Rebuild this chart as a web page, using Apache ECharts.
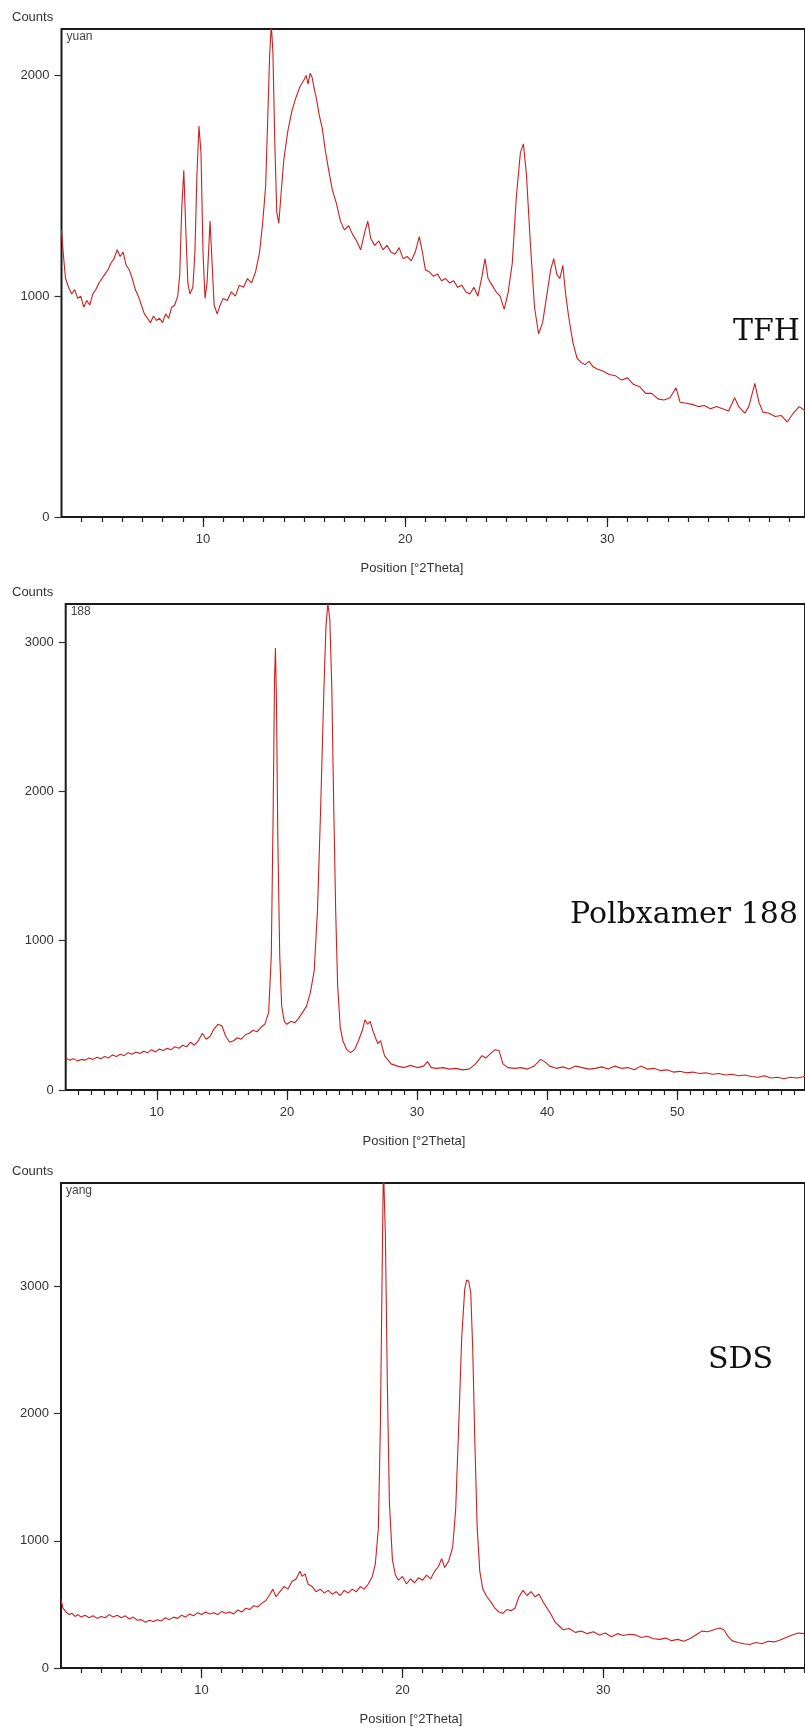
<!DOCTYPE html>
<html>
<head>
<meta charset="utf-8">
<script src="https://cdn.jsdelivr.net/npm/echarts@6/dist/echarts.min.js"></script>
<style>
  body { margin: 0; padding: 0; background: #fff; }
  #chart { width: 805px; height: 1727px; }
</style>
</head>
<body>
<div id="chart"></div>
<script>
// XRD patterns, [2theta, counts]
const tfh = [
  [3.0,1300],[3.1,1180],[3.2,1080],[3.35,1040],[3.5,1010],[3.65,1030],[3.8,990],[3.95,1000],
  [4.1,950],[4.25,980],[4.4,960],[4.55,1010],[4.7,1030],[4.85,1060],[5.0,1080],[5.15,1100],
  [5.3,1120],[5.45,1150],[5.6,1170],[5.75,1210],[5.9,1180],[6.05,1200],[6.2,1140],[6.35,1120],
  [6.5,1080],[6.65,1030],[6.8,1000],[6.95,960],[7.1,920],[7.25,900],[7.4,880],[7.55,910],
  [7.7,890],[7.85,900],[8.0,880],[8.15,920],[8.3,900],[8.45,950],[8.6,960],[8.75,1000],
  [8.85,1100],[8.95,1400],[9.05,1570],[9.15,1300],[9.25,1060],[9.35,1010],[9.5,1040],[9.6,1200],
  [9.7,1550],[9.8,1770],[9.9,1650],[10.0,1200],[10.1,990],[10.2,1060],[10.35,1340],[10.45,1150],
  [10.55,960],[10.7,920],[10.85,960],[11.0,990],[11.2,980],[11.4,1020],[11.6,1000],[11.8,1050],
  [12.0,1040],[12.2,1080],[12.4,1060],[12.6,1110],[12.8,1200],[12.95,1330],[13.1,1500],[13.2,1800],
  [13.3,2100],[13.38,2230],[13.46,2100],[13.55,1700],[13.65,1380],[13.75,1330],[13.85,1450],[14.0,1620],
  [14.2,1750],[14.4,1840],[14.6,1900],[14.8,1950],[15.0,1980],[15.1,2000],[15.2,1960],[15.3,2010],
  [15.4,1990],[15.5,1940],[15.6,1900],[15.75,1820],[15.9,1760],[16.05,1660],[16.2,1580],[16.4,1480],
  [16.6,1420],[16.8,1340],[17.0,1300],[17.2,1320],[17.4,1280],[17.6,1250],[17.8,1210],[18.0,1290],
  [18.15,1340],[18.3,1260],[18.5,1230],[18.7,1250],[18.9,1210],[19.1,1230],[19.3,1200],[19.5,1190],
  [19.7,1220],[19.9,1170],[20.1,1180],[20.3,1160],[20.5,1200],[20.7,1270],[20.85,1200],[21.0,1120],
  [21.2,1110],[21.4,1090],[21.6,1100],[21.8,1070],[22.0,1080],[22.2,1060],[22.4,1070],[22.6,1040],
  [22.8,1050],[23.0,1020],[23.2,1010],[23.4,1040],[23.6,1000],[23.8,1090],[23.95,1170],[24.1,1080],
  [24.3,1050],[24.5,1020],[24.7,1000],[24.9,940],[25.1,1020],[25.3,1150],[25.5,1450],[25.7,1650],
  [25.85,1690],[26.0,1550],[26.2,1230],[26.4,950],[26.6,830],[26.8,880],[27.0,1000],[27.2,1120],
  [27.35,1170],[27.5,1100],[27.65,1080],[27.8,1140],[27.95,1000],[28.1,900],[28.3,790],[28.5,720],
  [28.7,700],[28.9,690],[29.1,705],[29.3,680],[29.5,670],[29.8,660],[30.1,645],[30.4,640],
  [30.7,620],[31.0,630],[31.3,600],[31.6,590],[31.9,560],[32.2,560],[32.5,535],[32.8,530],
  [33.1,540],[33.4,585],[33.6,520],[33.9,515],[34.2,510],[34.5,500],[34.8,505],[35.1,490],
  [35.4,500],[35.7,490],[36.0,480],[36.3,540],[36.5,500],[36.8,470],[37.0,500],[37.3,605],
  [37.5,520],[37.7,475],[38.0,470],[38.3,455],[38.6,460],[38.9,430],[39.2,470],[39.5,500],[39.8,480]
];

const p188 = [
  [3.0,215],[3.3,200],[3.6,210],[3.9,195],[4.2,205],[4.5,200],[4.8,215],[5.1,205],[5.4,220],
  [5.7,210],[6.0,225],[6.3,215],[6.6,235],[6.9,225],[7.2,240],[7.5,230],[7.8,250],[8.1,240],
  [8.4,255],[8.7,245],[9.0,260],[9.3,250],[9.6,270],[9.9,255],[10.2,275],[10.5,265],[10.8,280],
  [11.1,270],[11.4,290],[11.7,280],[12.0,300],[12.3,290],[12.6,320],[12.9,300],[13.2,330],
  [13.5,380],[13.8,340],[14.1,360],[14.4,410],[14.7,440],[15.0,430],[15.3,360],[15.6,320],
  [15.9,330],[16.2,350],[16.5,340],[16.8,370],[17.1,380],[17.4,400],[17.7,390],[18.0,420],
  [18.3,440],[18.6,520],[18.8,900],[18.95,1900],[19.05,2750],[19.12,2960],[19.2,2600],[19.3,1700],
  [19.45,900],[19.6,560],[19.8,460],[20.0,440],[20.3,460],[20.6,450],[20.9,480],[21.2,520],
  [21.5,560],[21.8,650],[22.1,800],[22.35,1200],[22.6,1900],[22.85,2700],[23.0,3100],[23.15,3260],
  [23.3,3150],[23.45,2700],[23.6,1900],[23.75,1200],[23.9,700],[24.1,420],[24.3,330],[24.6,270],
  [24.9,250],[25.2,270],[25.5,330],[25.8,400],[26.0,470],[26.2,440],[26.4,460],[26.6,400],
  [26.8,350],[27.0,310],[27.2,330],[27.5,230],[28.0,175],[28.5,160],[29.0,150],[29.5,165],
  [30.0,150],[30.5,160],[30.8,190],[31.1,150],[31.5,145],[32.0,150],[32.5,140],[33.0,145],
  [33.5,135],[34.0,140],[34.5,175],[35.0,230],[35.3,215],[35.6,240],[36.0,270],[36.3,265],
  [36.6,175],[37.0,150],[37.5,145],[38.0,150],[38.5,140],[39.0,160],[39.5,205],[39.8,190],
  [40.2,160],[40.7,145],[41.2,155],[41.7,140],[42.2,160],[42.7,150],[43.2,140],[43.7,145],
  [44.2,155],[44.7,140],[45.2,160],[45.7,145],[46.2,150],[46.7,135],[47.2,160],[47.7,140],
  [48.2,145],[48.7,130],[49.2,135],[49.7,120],[50.2,125],[50.7,115],[51.2,120],[51.7,110],
  [52.2,115],[52.7,105],[53.2,110],[53.7,100],[54.2,105],[54.7,95],[55.2,100],[55.7,90],
  [56.2,85],[56.7,95],[57.2,80],[57.7,85],[58.2,75],[58.7,85],[59.2,80],[59.8,90]
];

const sds = [
  [3.0,540],[3.1,470],[3.25,440],[3.4,420],[3.55,430],[3.7,405],[3.85,420],[4.0,400],[4.2,415],
  [4.4,395],[4.6,410],[4.8,390],[5.0,405],[5.2,395],[5.4,420],[5.6,400],[5.8,415],[6.0,395],
  [6.2,410],[6.4,385],[6.6,400],[6.8,375],[7.0,380],[7.2,360],[7.4,375],[7.6,365],[7.8,380],
  [8.0,370],[8.2,395],[8.4,380],[8.6,400],[8.8,390],[9.0,415],[9.2,400],[9.4,425],[9.6,410],
  [9.8,435],[10.0,420],[10.2,440],[10.4,425],[10.6,435],[10.8,420],[11.0,445],[11.2,430],
  [11.4,440],[11.6,425],[11.8,455],[12.0,440],[12.2,470],[12.4,460],[12.6,490],[12.8,480],
  [13.0,510],[13.2,530],[13.4,580],[13.55,620],[13.7,560],[13.9,600],[14.1,640],[14.3,620],
  [14.5,680],[14.7,700],[14.9,760],[15.0,720],[15.15,740],[15.3,660],[15.5,640],[15.7,600],
  [15.9,620],[16.1,590],[16.3,610],[16.5,580],[16.7,600],[16.9,570],[17.1,610],[17.3,590],
  [17.5,620],[17.7,600],[17.9,640],[18.1,620],[18.3,660],[18.5,720],[18.65,820],[18.8,1100],
  [18.9,1900],[18.98,3000],[19.05,3950],[19.15,3400],[19.25,2200],[19.35,1300],[19.5,850],
  [19.65,730],[19.8,690],[20.0,720],[20.2,660],[20.4,700],[20.6,670],[20.8,710],[21.0,690],
  [21.2,730],[21.4,700],[21.6,760],[21.8,800],[21.95,860],[22.1,790],[22.3,840],[22.5,950],
  [22.65,1250],[22.8,1900],[22.95,2600],[23.1,2980],[23.2,3050],[23.3,3040],[23.4,2950],
  [23.5,2500],[23.6,1800],[23.72,1100],[23.85,760],[24.0,620],[24.2,560],[24.4,520],[24.6,470],
  [24.8,440],[25.0,430],[25.2,460],[25.4,450],[25.6,470],[25.8,560],[26.0,610],[26.2,570],
  [26.4,600],[26.6,560],[26.8,580],[27.0,520],[27.2,470],[27.4,420],[27.6,360],[27.8,330],
  [28.0,300],[28.3,310],[28.6,280],[28.9,290],[29.2,270],[29.5,285],[29.8,260],[30.1,275],
  [30.4,245],[30.7,270],[31.0,255],[31.3,265],[31.6,260],[31.9,240],[32.2,250],[32.5,230],
  [32.8,225],[33.1,235],[33.4,215],[33.7,225],[34.0,210],[34.3,230],[34.6,260],[34.9,290],
  [35.2,285],[35.5,300],[35.8,315],[36.0,300],[36.2,250],[36.4,215],[36.7,200],[37.0,190],
  [37.3,185],[37.6,200],[37.9,190],[38.2,210],[38.5,205],[38.8,220],[39.1,240],[39.4,260],
  [39.7,275],[40.0,270]
];

const tfhXLabels = [10, 20, 30];
const p188XLabels = [10, 20, 30, 40, 50];
const sdsXLabels = [10, 20, 30];
const tfhYLabels = [0, 1000, 2000];
const p188YLabels = [0, 1000, 2000, 3000];
const sdsYLabels = [0, 1000, 2000, 3000];
const sampleIds = ['yuan', '188', 'yang'];
const sampleNames = ['TFH', 'Polbxamer 188', 'SDS'];

function range(a, b) {
  const out = [];
  for (let v = a; v <= b; v++) out.push(v);
  return out;
}

const small = "'Liberation Sans Narrow', 'Liberation Sans', Arial, sans-serif";
const lineColor = '#cc1f1f';

const panels = [
  { data: tfh, left: 61.5, top: 29, height: 488, xMax: 39.78, yMax: 2210,
    xLabels: tfhXLabels, yLabels: tfhYLabels, minor: range(4, 39),
    nameX: 733, nameY: 332, posX: 412 },
  { data: p188, left: 65.7, top: 604, height: 486, xMax: 59.82, yMax: 3255,
    xLabels: p188XLabels, yLabels: p188YLabels, minor: range(4, 59),
    nameX: 570, nameY: 915, posX: 414 },
  { data: sds, left: 61, top: 1183, height: 485, xMax: 40.04, yMax: 3812,
    xLabels: sdsXLabels, yLabels: sdsYLabels, minor: range(4, 40),
    nameX: 708, nameY: 1360, posX: 411 }
];

const grid = [], xAxis = [], yAxis = [], series = [], graphic = [];

panels.forEach((p, i) => {
  grid.push({
    left: p.left, top: p.top, height: p.height, width: 805 + 6 - p.left,
    show: true, borderColor: '#1a1a1a', borderWidth: 2, backgroundColor: '#fff'
  });
  // minor ticks
  xAxis.push({
    type: 'value', gridIndex: i, min: 3, max: p.xMax, position: 'bottom',
    axisLine: { show: false }, splitLine: { show: false },
    axisTick: { show: true, length: 5, customValues: p.minor, lineStyle: { color: '#222', width: 1.2 } },
    axisLabel: { show: false }
  });
  // major ticks + labels
  xAxis.push({
    type: 'value', gridIndex: i, min: 3, max: p.xMax, position: 'bottom',
    axisLine: { show: false }, splitLine: { show: false },
    axisTick: { show: true, length: 10, customValues: p.xLabels, lineStyle: { color: '#222', width: 1.2 } },
    axisLabel: { show: true, customValues: p.xLabels, margin: 16, fontFamily: small, fontSize: 13,
                 color: '#333', formatter: v => String(v) }
  });
  yAxis.push({
    type: 'value', gridIndex: i, min: 0, max: p.yMax,
    axisLine: { show: false }, splitLine: { show: false },
    axisTick: { show: true, length: 7, customValues: p.yLabels, lineStyle: { color: '#333', width: 1.2 } },
    axisLabel: { show: true, customValues: p.yLabels, margin: 12, fontFamily: small, fontSize: 13,
                 color: '#333', formatter: v => String(v) }
  });
  series.push({
    type: 'line', xAxisIndex: i * 2, yAxisIndex: i, data: p.data,
    showSymbol: false, symbol: 'none', clip: true,
    lineStyle: { color: lineColor, width: 1.1 }
  });
  graphic.push(
    { type: 'text', left: 12, top: p.top - 18,
      style: { text: 'Counts', font: '13px ' + small, fill: '#333' } },
    { type: 'text', left: p.left + 5, top: p.top + 2,
      style: { text: sampleIds[i], font: '12px ' + small, fill: '#444' } },
    { type: 'text', x: p.posX, y: p.top + p.height + 51,
      style: { text: 'Position [°2Theta]', font: '13px ' + small, fill: '#333',
               textAlign: 'center', textVerticalAlign: 'middle' } },
    { type: 'text', x: p.nameX, y: p.nameY,
      style: { text: sampleNames[i], font: '30px "DejaVu Serif", serif', fill: '#111',
               textAlign: 'left', textVerticalAlign: 'middle' } }
  );
});

const chart = echarts.init(document.getElementById('chart'), null, { renderer: 'canvas' });
chart.setOption({
  animation: false,
  backgroundColor: '#fff',
  grid, xAxis, yAxis, series, graphic
});
</script>
</body>
</html>
